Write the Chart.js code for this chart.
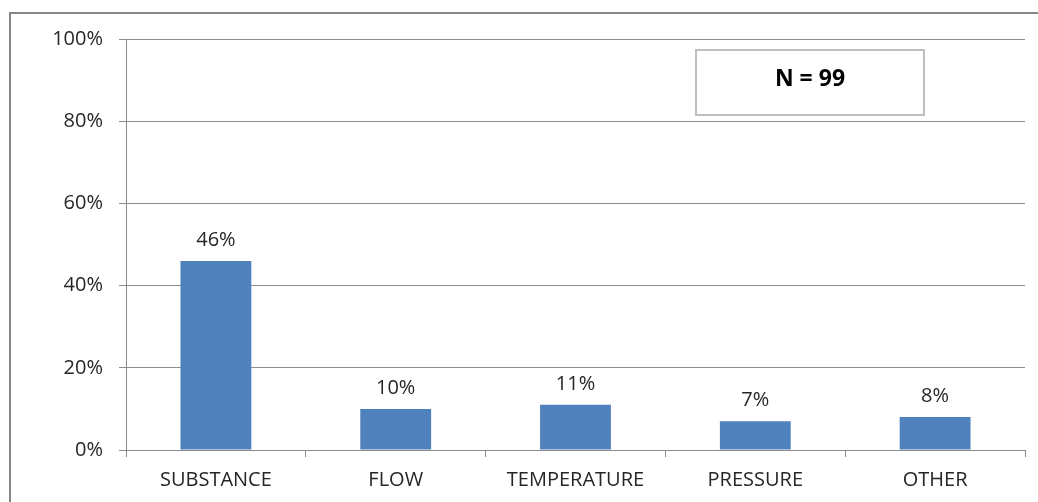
<!DOCTYPE html>
<html>
<head>
<meta charset="utf-8">
<script src="https://cdn.jsdelivr.net/npm/chart.js@4/dist/chart.umd.min.js"></script>
<style>
  html, body { margin: 0; padding: 0; background: #ffffff; }
  #wrap { width: 1038px; height: 502px; position: relative; }
</style>
</head>
<body>
<div id="wrap"><canvas id="chart" width="1038" height="502"></canvas></div>
<script>
// Share of cases by category (percent)
const categories = ['SUBSTANCE', 'FLOW', 'TEMPERATURE', 'PRESSURE', 'OTHER'];
const shares = [46, 10, 11, 7, 8];
const yTicks = [0, 20, 40, 60, 80, 100];
const sampleLabel = 'N = 99';

const FONT = '"Open Sans", "Liberation Sans", sans-serif';
const TEXT = '#262626';
const LINE = '#8c8c8c';

// Outer frame of the chart object
const framePlugin = {
  id: 'frame',
  beforeDraw(chart) {
    const ctx = chart.ctx;
    ctx.save();
    ctx.fillStyle = '#ffffff';
    ctx.fillRect(0, 0, chart.width, chart.height);
    ctx.strokeStyle = '#868686';
    ctx.lineWidth = 2;
    ctx.strokeRect(10, 13, chart.width + 20, chart.height + 20);
    ctx.restore();
  }
};

// Percent labels above each bar
const valueLabels = {
  id: 'valueLabels',
  afterDatasetsDraw(chart) {
    const ctx = chart.ctx;
    const meta = chart.getDatasetMeta(0);
    ctx.save();
    ctx.font = '20px ' + FONT;
    ctx.fillStyle = TEXT;
    ctx.textAlign = 'center';
    ctx.textBaseline = 'alphabetic';
    meta.data.forEach((bar, i) => {
      ctx.fillText(shares[i] + '%', bar.x, bar.y - 15);
    });
    ctx.restore();
  }
};

// Sample size box in the upper right of the plot
const sampleBox = {
  id: 'sampleBox',
  afterDraw(chart) {
    const ctx = chart.ctx;
    const x = 696, y = 50, w = 228, h = 65;
    ctx.save();
    ctx.fillStyle = '#ffffff';
    ctx.fillRect(x, y, w, h);
    ctx.strokeStyle = '#bfbfbf';
    ctx.lineWidth = 2;
    ctx.strokeRect(x, y, w, h);
    ctx.font = 'bold 23px ' + FONT;
    ctx.fillStyle = '#000000';
    ctx.textAlign = 'center';
    ctx.textBaseline = 'alphabetic';
    ctx.fillText(sampleLabel, 810, 86);
    ctx.restore();
  }
};

new Chart(document.getElementById('chart'), {
  type: 'bar',
  data: {
    labels: categories,
    datasets: [{
      data: shares,
      backgroundColor: '#4f81bd',
      borderWidth: 0,
      categoryPercentage: 1,
      barPercentage: 0.394
    }]
  },
  options: {
    responsive: false,
    animation: false,
    devicePixelRatio: 1,
    layout: { padding: { left: 0, right: 13, top: 39, bottom: 0 } },
    plugins: {
      legend: { display: false },
      tooltip: { enabled: false }
    },
    scales: {
      x: {
        grid: {
          display: true,
          drawOnChartArea: false,
          drawTicks: true,
          tickLength: 7,
          color: LINE,
          offset: true
        },
        border: { display: true, color: LINE, width: 1 },
        ticks: {
          color: TEXT,
          font: { family: FONT, size: 20 },
          padding: 11,
          maxRotation: 0,
          autoSkip: false
        },
        afterFit(scale) { scale.height = 52; }
      },
      y: {
        min: 0,
        max: 100,
        afterBuildTicks(scale) {
          scale.ticks = yTicks.map(v => ({ value: v }));
        },
        grid: {
          color: LINE,
          tickLength: 7,
          drawTicks: true
        },
        border: { display: true, color: LINE, width: 1 },
        ticks: {
          color: TEXT,
          font: { family: FONT, size: 20 },
          padding: 16,
          callback: v => v + '%'
        },
        afterFit(scale) { scale.width = 126; }
      }
    }
  },
  plugins: [framePlugin, valueLabels, sampleBox]
});
</script>
</body>
</html>
